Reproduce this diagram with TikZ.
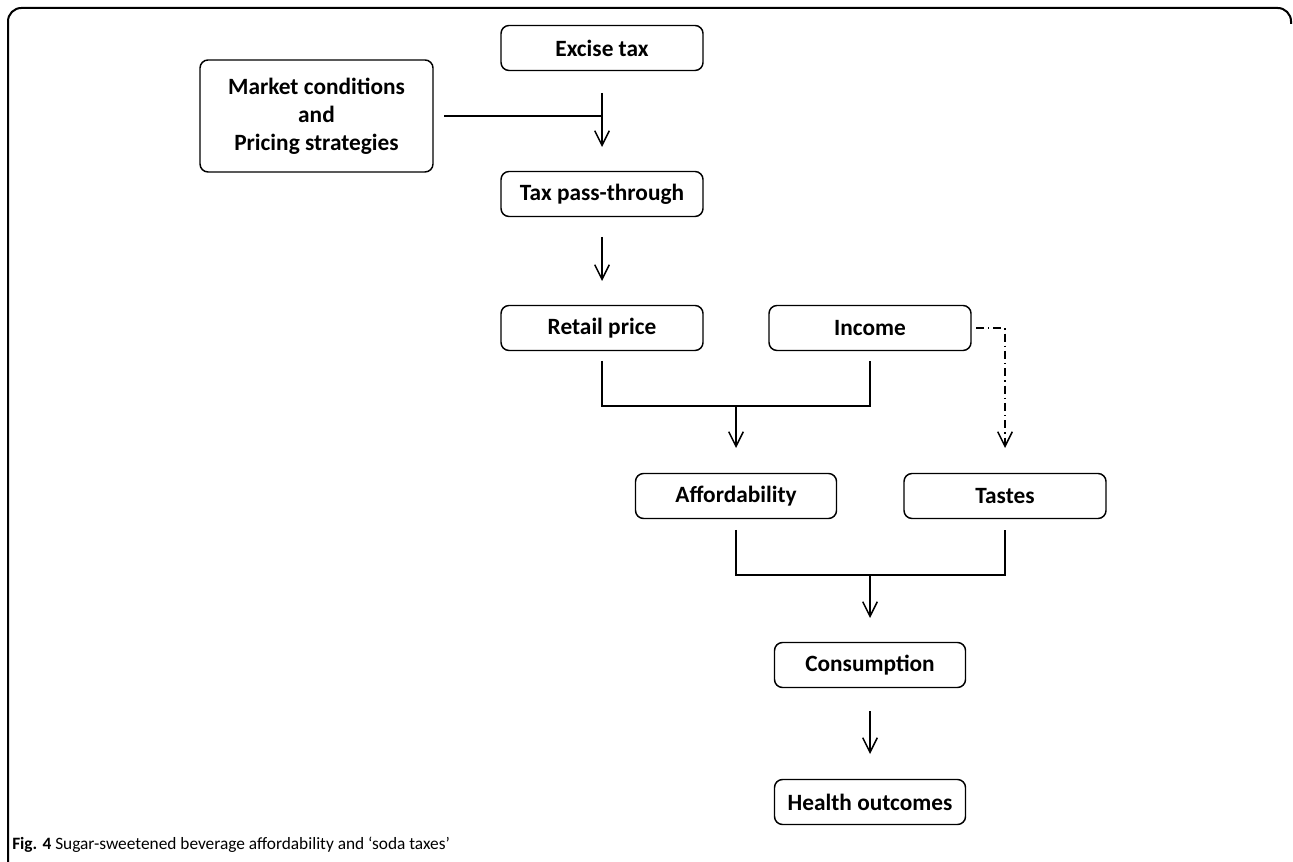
\documentclass[tikz,border=0pt]{standalone}
\usepackage{fontspec}
\setmainfont{Carlito}
\usetikzlibrary{arrows.meta}
\tikzset{
  box/.style={draw, line width=1.1pt, rounded corners=6pt, minimum height=45*0.75pt, align=center, inner sep=0pt, font=\bfseries\fontsize{17.5}{21}\selectfont},
  conn/.style={line width=1.1pt},
  arr/.style={conn, -{Straight Barb[length=11pt,width=11pt,line width=1.1pt]}},
  dashdot/.style={conn, dash pattern=on 6pt off 3pt on 1pt off 3pt, -{Straight Barb[length=11pt,width=11pt,line width=1.1pt]}}
}
\begin{document}
\begin{tikzpicture}[x=0.75pt, y=-0.75pt]
\useasboundingbox (0,0) rectangle (1293,862);
% frame
\draw[line width=1.5pt, rounded corners=10pt] (8,870) -- (8,8) -- (1291,8) -- (1291,24);
% nodes
\node[box, minimum width=202*0.75pt] (excise) at (602,48) {Excise tax};
\node[box, minimum width=233*0.75pt, minimum height=112*0.75pt] (market) at (316.5,116) {Market conditions\\and\\Pricing strategies};
\node[box, minimum width=202*0.75pt] (pass) at (602,194) {Tax pass-through};
\node[box, minimum width=202*0.75pt] (retail) at (602,328) {Retail price};
\node[box, minimum width=202*0.75pt] (income) at (870,328) {Income};
\node[box, minimum width=201*0.75pt] (afford) at (736,496) {Affordability};
\node[box, minimum width=202*0.75pt] (tastes) at (1005,496) {Tastes};
\node[box, minimum width=191*0.75pt] (cons) at (870,665) {Consumption};
\node[box, minimum width=191*0.75pt] (health) at (870,802) {Health outcomes};
% connector coordinates
\coordinate (e1) at (602,93);
\coordinate (e2) at (602,147);
\coordinate (m1) at (444,116);
\coordinate (m2) at (602,116);
\coordinate (p1) at (602,237);
\coordinate (p2) at (602,281);
\coordinate (r1) at (602,361);
\coordinate (r2) at (602,406);
\coordinate (i1) at (870,361);
\coordinate (i2) at (870,406);
\coordinate (a0) at (736,406);
\coordinate (a1) at (736,448);
\coordinate (d0) at (976,328);
\coordinate (d1) at (1005,328);
\coordinate (d2) at (1005,448);
\coordinate (f1) at (736,530);
\coordinate (f2) at (736,575);
\coordinate (t1) at (1005,530);
\coordinate (t2) at (1005,575);
\coordinate (c0) at (870,575);
\coordinate (c1) at (870,618);
\coordinate (h0) at (870,711);
\coordinate (h1) at (870,754);
% connectors
\draw[arr] (e1) -- (e2);
\draw[conn] (m1) -- (m2);
\draw[arr] (p1) -- (p2);
\draw[conn] (r1) -- (r2) -- (i2) -- (i1);
\draw[arr] (a0) -- (a1);
\draw[dashdot] (d0) -- (d1) -- (d2);
\draw[conn] (f1) -- (f2) -- (t2) -- (t1);
\draw[arr] (c0) -- (c1);
\draw[arr] (h0) -- (h1);
% caption
\node[anchor=base west, inner sep=0pt, font=\fontsize{13}{15}\selectfont] (cap) at (12,849) {\textbf{Fig. 4} Sugar-sweetened beverage affordability and ‘soda taxes’};
\end{tikzpicture}
\end{document}
